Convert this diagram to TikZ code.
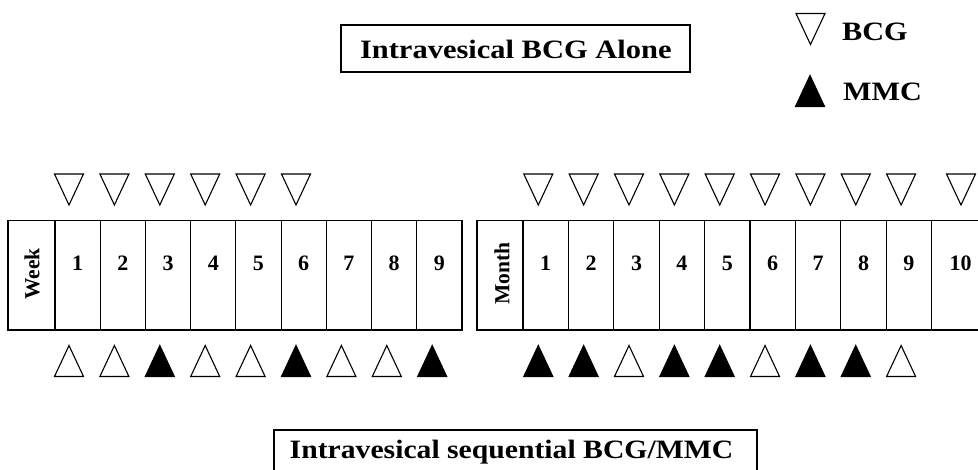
\documentclass[tikz,border=0pt]{standalone}
\usepackage{graphicx}
\usepackage{fontspec}
\setmainfont{Liberation Serif}
\begin{document}
\begin{tikzpicture}[x=1pt,y=-1pt,
  line width=1.2pt,
  cellbox/.style={draw, line width=1.2pt, inner sep=0pt},
  num/.style={font=\fontsize{22}{24}\selectfont\bfseries, anchor=base, inner sep=0pt},
  vlabel/.style={font=\fontsize{21.5}{24}\selectfont\bfseries, rotate=90, inner sep=0pt},
  bigtxt/.style={font=\fontsize{26.5}{30}\selectfont\bfseries, inner sep=0pt},
  tri/.style={draw, line width=1.1pt, line join=miter},
  downtri/.pic={\draw[tri, fill=white] (-14.5,-15.5) -- (14.5,-15.5) -- (0,15.5) -- cycle;},
  uptri/.pic={\draw[tri, fill=white] (-14.5,15.5) -- (14.5,15.5) -- (0,-15.5) -- cycle;},
  uptrifill/.pic={\draw[tri, fill=black] (-14.5,15.5) -- (14.5,15.5) -- (0,-15.5) -- cycle;}
]
\useasboundingbox (0,0) rectangle (978,470);
\clip (0,0) rectangle (978,470);
\fill[white] (0,0) rectangle (978,470);

% ---- title box
\node[draw, line width=1.2pt, minimum width=349, minimum height=47, inner sep=0pt] (titlebox) at (515.5,48.5) {};
\node[bigtxt] (title) at (515.8,49.5) {\scalebox{1.15}[1]{Intravesical BCG Alone}};

% ---- legend
\pic at (810.5,29) {downtri};
\node[bigtxt, anchor=base west] (legbcg) at (841.5,40.7) {\scalebox{1.14}[1]{BCG}};
\pic at (810,91) {uptrifill};
\node[bigtxt, anchor=base west] (legmmc) at (842.5,100.5) {\scalebox{1.14}[1]{MMC}};

% ---- left table (weeks)
\draw[line width=1.2pt] (8,220.5) rectangle (462,330);
\node[vlabel] (week) at (32,274) {Week};
\foreach \i in {1,...,9} {
  \pgfmathsetmacro{\xl}{55+45.22*(\i-1)}
  \draw[line width=1.2pt] (\xl,220.5) -- (\xl,330);
  \node[num] (w\i) at ({\xl+22.6},270.5) {\i};
}
% top BCG triangles (left)
\foreach \k in {0,...,5} { \pic at ({69+45.4*\k},189.5) {downtri}; }
% bottom triangles (left)
\foreach \k/\f in {0/uptri,1/uptri,2/uptrifill,3/uptri,4/uptri,5/uptrifill,6/uptri,7/uptri,8/uptrifill} {
  \pic at ({69+45.4*\k},361) {\f};
}

% ---- right table (months)
\draw[line width=1.2pt] (990,220.5) -- (477,220.5) -- (477,330) -- (990,330);
\node[vlabel] (month) at (502,273.5) {Month};
\foreach \i in {1,...,10} {
  \pgfmathsetmacro{\xl}{523+45.4*(\i-1)}
  \draw[line width=1.2pt] (\xl,220.5) -- (\xl,330);
}
\foreach \i in {1,...,9} {
  \pgfmathsetmacro{\xc}{523+45.4*(\i-1)+22.7}
  \node[num] (m\i) at (\xc,270.5) {\i};
}
\node[num] (m10) at (960.5,270.5) {10};
% top BCG triangles (right)
\foreach \k in {0,...,8} { \pic at ({538.3+45.35*\k},189.5) {downtri}; }
\pic at (961,189.5) {downtri};
% bottom triangles (right)
\foreach \k/\f in {0/uptrifill,1/uptrifill,2/uptri,3/uptrifill,4/uptrifill,5/uptri,6/uptrifill,7/uptrifill,8/uptri} {
  \pic at ({538.3+45.35*\k},361) {\f};
}

% ---- bottom title box
\draw[line width=1.2pt] (274,490) -- (274,430) -- (757,430) -- (757,490);
\node[bigtxt, anchor=base] (bottitle) at (511.5,458.5) {\scalebox{1.12}[1]{Intravesical sequential BCG/MMC}};
\end{tikzpicture}
\end{document}
